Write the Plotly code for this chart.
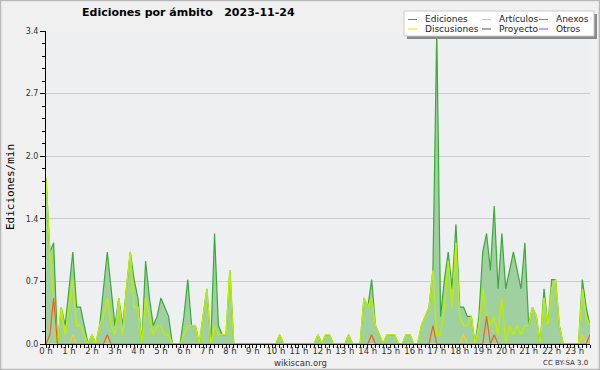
import plotly.graph_objects as go

# ---- data (10-minute steps, 0:00 .. 23:40) ----
hour_labels = [f"{h} h" for h in range(24)]

ediciones = [
    1.8, 1.0, 1.1, 0.0, 0.4, 0.2, 0.6, 1.0, 0.4, 0.4, 0.2, 0.0,
    0.1, 0.0, 0.2, 0.6, 1.0, 0.6, 0.2, 0.5, 0.2, 0.6, 1.0, 0.7,
    0.5, 0.0, 0.9, 0.5, 0.2, 0.3, 0.5, 0.4, 0.3, 0.0, 0.0, 0.0,
    0.3, 0.7, 0.2, 0.2, 0.0, 0.3, 0.6, 0.0, 1.2, 0.2, 0.1, 0.1,
    0.8, 0.0, 0.0, 0.0, 0.0, 0.0, 0.0, 0.0, 0.0, 0.0, 0.0, 0.0,
    0.0, 0.1, 0.0, 0.0, 0.0, 0.0, 0.0, 0.0, 0.0, 0.0, 0.0, 0.1,
    0.0, 0.1, 0.1, 0.0, 0.0, 0.0, 0.0, 0.1, 0.0, 0.0, 0.0, 0.5,
    0.4, 0.7, 0.2, 0.1, 0.0, 0.1, 0.1, 0.1, 0.0, 0.0, 0.1, 0.1,
    0.0, 0.0, 0.2, 0.3, 0.4, 0.8, 3.4, 0.3, 0.7, 1.0, 0.6, 1.3,
    0.4, 0.4, 0.3, 0.3, 0.0, 0.3, 1.0, 1.2, 0.8, 1.5, 0.6, 1.2,
    0.6, 0.8, 1.0, 0.8, 0.6, 1.1, 0.2, 0.4, 0.3, 0.0, 0.6, 0.2,
    0.7, 0.7, 0.2, 0.0, 0.0, 0.0, 0.0, 0.0, 0.7, 0.4, 0.2,
]

articulos = [
    1.8, 1.0, 0.5, 0.0, 0.4, 0.1, 0.4, 0.7, 0.2, 0.2, 0.1, 0.0,
    0.1, 0.0, 0.2, 0.3, 0.5, 0.2, 0.1, 0.5, 0.1, 0.6, 1.0, 0.4,
    0.4, 0.0, 0.5, 0.3, 0.1, 0.2, 0.2, 0.1, 0.1, 0.0, 0.0, 0.0,
    0.1, 0.2, 0.2, 0.2, 0.0, 0.3, 0.6, 0.0, 0.2, 0.1, 0.1, 0.1,
    0.8, 0.0, 0.0, 0.0, 0.0, 0.0, 0.0, 0.0, 0.0, 0.0, 0.0, 0.0,
    0.0, 0.1, 0.0, 0.0, 0.0, 0.0, 0.0, 0.0, 0.0, 0.0, 0.0, 0.1,
    0.0, 0.1, 0.1, 0.0, 0.0, 0.0, 0.0, 0.1, 0.0, 0.0, 0.0, 0.5,
    0.4, 0.5, 0.2, 0.1, 0.0, 0.1, 0.1, 0.1, 0.0, 0.0, 0.1, 0.1,
    0.0, 0.0, 0.2, 0.3, 0.4, 0.8, 0.1, 0.1, 0.4, 0.9, 0.4, 1.1,
    0.3, 0.2, 0.2, 0.3, 0.0, 0.2, 0.6, 0.3, 0.2, 0.3, 0.1, 0.5,
    0.0, 0.2, 0.1, 0.2, 0.1, 0.2, 0.2, 0.4, 0.3, 0.0, 0.5, 0.2,
    0.6, 0.7, 0.2, 0.0, 0.0, 0.0, 0.0, 0.0, 0.6, 0.3, 0.2,
]

anexos = [
    0.0, 0.1, 0.5, 0.0, 0.0, 0.0, 0.0, 0.0, 0.0, 0.0, 0.0, 0.0,
    0.0, 0.0, 0.0, 0.0, 0.1, 0.0, 0.0, 0.0, 0.0, 0.0, 0.0, 0.0,
    0.0, 0.0, 0.0, 0.0, 0.0, 0.0, 0.0, 0.0, 0.0, 0.0, 0.0, 0.0,
    0.0, 0.0, 0.0, 0.0, 0.0, 0.0, 0.0, 0.0, 0.0, 0.0, 0.0, 0.0,
    0.0, 0.0, 0.0, 0.0, 0.0, 0.0, 0.0, 0.0, 0.0, 0.0, 0.0, 0.0,
    0.0, 0.0, 0.0, 0.0, 0.0, 0.0, 0.0, 0.0, 0.0, 0.0, 0.0, 0.0,
    0.0, 0.0, 0.0, 0.0, 0.0, 0.0, 0.0, 0.0, 0.0, 0.0, 0.0, 0.0,
    0.0, 0.1, 0.0, 0.0, 0.0, 0.0, 0.0, 0.0, 0.0, 0.0, 0.0, 0.0,
    0.0, 0.0, 0.0, 0.0, 0.0, 0.2, 0.0, 0.0, 0.0, 0.0, 0.0, 0.0,
    0.0, 0.0, 0.0, 0.0, 0.0, 0.0, 0.0, 0.3, 0.0, 0.1, 0.0, 0.0,
    0.0, 0.0, 0.0, 0.0, 0.0, 0.0, 0.0, 0.0, 0.0, 0.0, 0.0, 0.0,
    0.0, 0.0, 0.0, 0.0, 0.0, 0.0, 0.0, 0.0, 0.0, 0.0, 0.1,
]

discusiones = [
    0.0, 0.0, 0.0, 0.0, 0.0, 0.0, 0.0, 0.1, 0.0, 0.0, 0.0, 0.0,
    0.0, 0.0, 0.0, 0.0, 0.0, 0.0, 0.0, 0.0, 0.0, 0.0, 0.0, 0.0,
    0.0, 0.0, 0.0, 0.0, 0.0, 0.0, 0.0, 0.0, 0.0, 0.0, 0.0, 0.0,
    0.0, 0.0, 0.0, 0.0, 0.0, 0.0, 0.0, 0.0, 0.0, 0.0, 0.0, 0.0,
    0.0, 0.0, 0.0, 0.0, 0.0, 0.0, 0.0, 0.0, 0.0, 0.0, 0.0, 0.0,
    0.0, 0.0, 0.0, 0.0, 0.0, 0.0, 0.0, 0.0, 0.0, 0.0, 0.0, 0.0,
    0.0, 0.0, 0.0, 0.0, 0.0, 0.0, 0.0, 0.0, 0.0, 0.0, 0.0, 0.0,
    0.0, 0.0, 0.0, 0.0, 0.0, 0.0, 0.0, 0.0, 0.0, 0.0, 0.0, 0.0,
    0.0, 0.0, 0.0, 0.0, 0.0, 0.0, 0.0, 0.0, 0.0, 0.0, 0.0, 0.0,
    0.0, 0.1, 0.0, 0.0, 0.0, 0.0, 0.0, 0.0, 0.0, 0.0, 0.0, 0.0,
    0.0, 0.0, 0.0, 0.0, 0.0, 0.0, 0.0, 0.0, 0.0, 0.0, 0.0, 0.0,
    0.0, 0.0, 0.0, 0.0, 0.0, 0.0, 0.0, 0.0, 0.1, 0.0, 0.0,
]

y_tick_vals = [0.0, 0.68, 1.36, 2.04, 2.72, 3.4]
y_tick_text = ["0.0", "0.7", "1.4", "2.0", "2.7", "3.4"]

legend_names = ["Ediciones", "Artículos", "Anexos", "Discusiones", "Proyecto", "Otros"]
legend_colors = ["#3aaa3a", "#bbee00", "#f06020", "#ffcc22", "#555555", "#9944ee"]

steps = list(range(len(ediciones)))

# ---- geometry helpers (pixel -> paper) ----
W, H = 600, 370
L, R, T, B = 46, 10, 31, 26
PW, PH = W - L - R, H - T - B


def px(x):
    return (x - L) / PW


def py(y):
    return (H - B - y) / PH


FONT = "DejaVu Sans"

fig = go.Figure()
fig.add_trace(go.Scatter(x=steps, y=ediciones, mode="lines", fill="tozeroy",
                         fillcolor="#a0d0a0", line=dict(color=legend_colors[0], width=1.2),
                         name=legend_names[0], showlegend=False, hoverinfo="skip"))
fig.add_trace(go.Scatter(x=steps, y=articulos, mode="lines",
                         line=dict(color=legend_colors[1], width=1.5),
                         name=legend_names[1], showlegend=False, hoverinfo="skip"))
fig.add_trace(go.Scatter(x=steps, y=discusiones, mode="lines",
                         line=dict(color=legend_colors[3], width=1.2),
                         name=legend_names[3], showlegend=False, hoverinfo="skip"))
fig.add_trace(go.Scatter(x=steps, y=anexos, mode="lines",
                         line=dict(color=legend_colors[2], width=1.2),
                         name=legend_names[2], showlegend=False, hoverinfo="skip"))

fig.update_layout(
    width=W, height=H,
    margin=dict(l=L, r=R, t=T, b=B, autoexpand=False),
    paper_bgcolor="#f0f0f0",
    plot_bgcolor="#eeeff1",
    font=dict(family=FONT, size=9, color="#333333"),
    showlegend=False,
)

fig.update_xaxes(
    range=[0, len(ediciones) - 1],
    tickvals=list(range(0, 24 * 6, 6)), ticktext=hour_labels,
    ticks="outside", ticklen=3, tickcolor="black", tickwidth=1,
    minor=dict(dtick=1, tick0=0, ticks="outside", ticklen=3, tickcolor="black", showgrid=False),
    showline=True, linecolor="black", linewidth=1,
    showgrid=False, zeroline=False, automargin=False,
    ticklabelstandoff=-4,
    tickfont=dict(family=FONT, size=8.5, color="#333333"),
)
fig.update_yaxes(
    range=[0, 3.4],
    tickvals=y_tick_vals, ticktext=y_tick_text,
    ticks="outside", ticklen=5, tickcolor="black", tickwidth=1,
    minor=dict(dtick=0.136, tick0=0, ticks="outside", ticklen=3, tickcolor="black", showgrid=False),
    showline=True, linecolor="black", linewidth=1,
    showgrid=True, gridcolor="#cccccc", gridwidth=1,
    zeroline=False, automargin=False,
    tickfont=dict(family=FONT, size=8, color="#333333"),
)

annotations = [
    dict(text="<b>Ediciones por ámbito   2023-11-24</b>", x=px(188.5), y=py(13),
         xref="paper", yref="paper", showarrow=False, xanchor="center", yanchor="middle",
         font=dict(family=FONT, size=11, color="#000000")),
    dict(text="Ediciones/min", x=px(10), y=py(187), xref="paper", yref="paper",
         showarrow=False, textangle=-90, xanchor="center", yanchor="middle",
         font=dict(family="DejaVu Sans Mono", size=11, color="#000000")),
    dict(text="wikiscan.org", x=px(300), y=py(362.5), xref="paper", yref="paper",
         showarrow=False, xanchor="center", yanchor="middle",
         font=dict(family=FONT, size=8.5, color="#333333")),
    dict(text="CC BY-SA 3.0", x=px(590), y=py(362.5), xref="paper", yref="paper",
         showarrow=False, xanchor="right", yanchor="middle",
         font=dict(family=FONT, size=7, color="#333333")),
]

shapes = [
    # outer frame
    dict(type="rect", xref="paper", yref="paper", x0=px(0.5), x1=px(599.5), y0=py(369.5), y1=py(0.5),
         line=dict(color="#b8b8b8", width=1.5), layer="above"),
    # legend shadow and box
    dict(type="rect", xref="paper", yref="paper", x0=px(407), x1=px(597), y0=py(39), y1=py(14),
         fillcolor="#8a8a8a", line=dict(width=0), layer="above"),
    dict(type="rect", xref="paper", yref="paper", x0=px(404), x1=px(594), y0=py(36), y1=py(11),
         fillcolor="#ffffff", line=dict(color="#cccccc", width=1), layer="above"),
]

legend_pos = [(408, 19.5), (482, 19.5), (539, 19.5), (408, 29), (482, 29), (539, 29)]
for name, color, (lx, ly) in zip(legend_names, legend_colors, legend_pos):
    shapes.append(dict(type="line", xref="paper", yref="paper", x0=px(lx), x1=px(lx + 9),
                       y0=py(ly), y1=py(ly), line=dict(color=color, width=1), layer="above"))
    annotations.append(dict(text=name, x=px(lx + 15), y=py(ly), xref="paper", yref="paper",
                            showarrow=False, xanchor="left", yanchor="middle",
                            font=dict(family=FONT, size=9, color="#222222")))

fig.update_layout(annotations=annotations, shapes=shapes)

fig.write_html(
    "out.html",
    config={"displayModeBar": False, "staticPlot": True},
    post_script="document.body.style.margin='0';document.body.style.padding='0';"
                "document.documentElement.style.overflow='hidden';",
)
